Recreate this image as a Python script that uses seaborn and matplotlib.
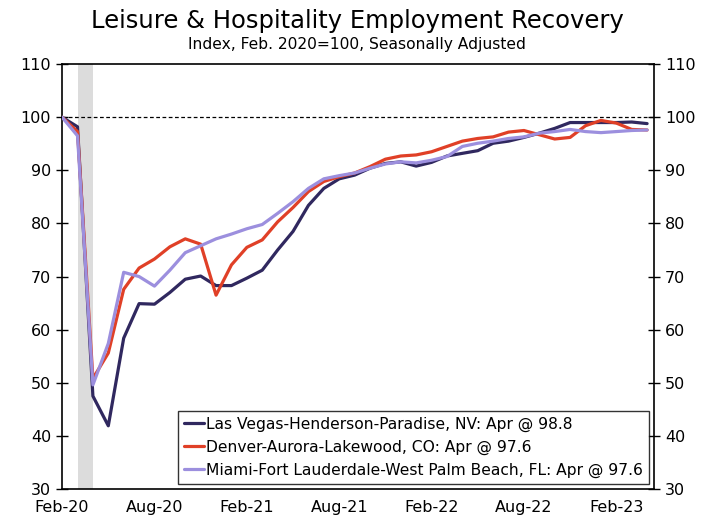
import numpy as np
import pandas as pd
import matplotlib
matplotlib.use("Agg")
import matplotlib.pyplot as plt
import seaborn as sns

# monthly index, Feb-2020 .. Apr-2023
months = pd.date_range("2020-02-01", "2023-04-01", freq="MS")

las_vegas = [100.0, 98.2, 47.5, 41.9, 58.4, 64.9, 64.8, 67.0, 69.5, 70.1,
             68.3, 68.3, 69.7, 71.2, 75.0, 78.5, 83.4, 86.6, 88.4, 89.1,
             90.4, 91.3, 91.6, 90.8, 91.5, 92.7, 93.2, 93.7, 95.1, 95.5,
             96.2, 97.0, 97.9, 99.0, 99.0, 99.0, 99.0, 99.1, 98.8]
denver = [100.0, 97.3, 50.8, 55.6, 67.6, 71.6, 73.3, 75.6, 77.1, 76.1,
          66.5, 72.2, 75.5, 76.9, 80.3, 83.0, 86.0, 87.9, 88.8, 89.5,
          90.7, 92.1, 92.7, 92.9, 93.5, 94.5, 95.5, 96.0, 96.3, 97.2,
          97.5, 96.7, 95.9, 96.2, 98.4, 99.4, 98.9, 97.7, 97.6]
miami = [100.0, 96.5, 49.6, 57.4, 70.8, 70.0, 68.2, 71.2, 74.5, 75.8,
         77.1, 78.0, 79.0, 79.8, 81.9, 84.1, 86.6, 88.4, 89.0, 89.5,
         90.4, 91.2, 91.6, 91.4, 91.9, 92.6, 94.5, 95.1, 95.5, 96.0,
         96.3, 97.0, 97.3, 97.7, 97.3, 97.1, 97.3, 97.5, 97.6]

labels = ["Las Vegas-Henderson-Paradise, NV: Apr @ 98.8",
          "Denver-Aurora-Lakewood, CO: Apr @ 97.6",
          "Miami-Fort Lauderdale-West Palm Beach, FL: Apr @ 97.6"]
colors = ["#30285F", "#E04027", "#9C8FDE"]

tick_labels = ["Feb-20", "Aug-20", "Feb-21", "Aug-21", "Feb-22", "Aug-22", "Feb-23"]
y_ticks = [30, 40, 50, 60, 70, 80, 90, 100, 110]

idx = np.arange(len(months))
df = pd.concat([
    pd.DataFrame({"month": idx, "value": vals, "series": lab})
    for vals, lab in zip([las_vegas, denver, miami], labels)
])

sns.set_style("white")
plt.rcParams["font.family"] = ["DejaVu Sans"]
plt.rcParams["text.color"] = "black"
plt.rcParams["axes.labelcolor"] = "black"

fig = plt.figure(figsize=(7.14, 5.15), dpi=100)
ax = fig.add_axes([0.087, 0.0505, 0.829, 0.825])

# recession shading (Mar-Apr 2020)
ax.axvspan(1, 2, color="#DCDCDC", lw=0, zorder=0)
ax.axhline(100, color="black", lw=0.9, ls=(0, (3, 2)), zorder=1)

sns.lineplot(data=df, x="month", y="value", hue="series", hue_order=labels,
             palette=colors, linewidth=2.3, ax=ax, zorder=3)

ax.set_xlim(0, 38.45)
ax.set_ylim(30, 110)
ax.set_xticks(idx[::6][:len(tick_labels)])
ax.set_xticklabels(tick_labels, fontsize=11.5)
ax.set_yticks(y_ticks)
ax.set_yticklabels([str(t) for t in y_ticks], fontsize=11.5)
ax.set_xlabel("")
ax.set_ylabel("")
ax.tick_params(axis="x", direction="in", length=5, width=1, colors="black", pad=8)
ax.tick_params(axis="y", direction="inout", length=8, width=1, colors="black", pad=4,
               right=True, labelright=True, left=True)
for s in ax.spines.values():
    s.set_color("black")
    s.set_linewidth(1.2)

leg = ax.legend(loc="lower right", fontsize=11.2, frameon=True, fancybox=False,
                handlelength=1.3, handletextpad=0.15, borderpad=0.35,
                labelspacing=0.5, borderaxespad=0.35)
leg.get_frame().set_edgecolor("black")
leg.get_frame().set_linewidth(1.0)
for ln in leg.get_lines():
    ln.set_linewidth(2.3)

fig.text(0.5, 0.96, "Leisure & Hospitality Employment Recovery",
         ha="center", va="center", fontsize=17.5)
fig.text(0.5, 0.913, "Index, Feb. 2020=100, Seasonally Adjusted",
         ha="center", va="center", fontsize=11.2)

fig.savefig("out.png", dpi=100)
